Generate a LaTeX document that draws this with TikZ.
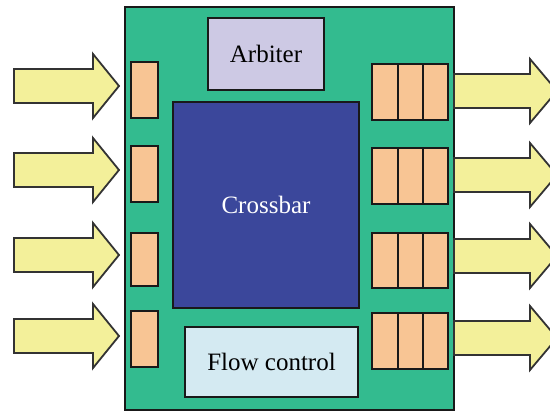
\documentclass[tikz,border=0pt]{standalone}
\usepackage{fontspec}
\setmainfont{Liberation Serif}
\definecolor{routergreen}{RGB}{51,187,143}
\definecolor{xbarblue}{RGB}{59,71,155}
\definecolor{arblav}{RGB}{205,201,228}
\definecolor{flowblue}{RGB}{212,234,242}
\definecolor{bufpeach}{RGB}{248,197,148}
\definecolor{arrowyellow}{RGB}{243,240,154}
\tikzset{
  box/.style={draw=black!90, line width=2pt, anchor=north west, inner sep=0pt, font=\fontsize{25}{30}\selectfont},
  buf/.style={box, fill=bufpeach},
  fatarrow/.style={draw=black!80, line width=1.8pt, fill=arrowyellow, line join=miter}
}
\newcommand{\fatarrowat}[4]{% x-start, x-shaft-end, x-tip, y-center
  \draw[fatarrow] (#1,#4-17) -- (#2,#4-17) -- (#2,#4-32) -- (#3,#4) -- (#2,#4+32) -- (#2,#4+17) -- (#1,#4+17) -- cycle;}
\begin{document}
\begin{tikzpicture}[x=1pt,y=-1pt]
\useasboundingbox (0,0) rectangle (550,411);
\clip (0,0) rectangle (550,411);
% router body
\node[box, fill=routergreen, minimum width=329pt, minimum height=403pt] (router) at (124,6) {};
\node[box, fill=arblav, minimum width=116pt, minimum height=72pt] (arbiter) at (207,17) {Arbiter};
\node[box, fill=xbarblue, text=white, minimum width=186pt, minimum height=206pt] (crossbar) at (172,101) {Crossbar};
\node[box, fill=flowblue, minimum width=173pt, minimum height=70pt] (flow) at (184,326) {Flow control};
% input buffers
\node[buf, minimum width=27pt, minimum height=56pt] (ib1) at (130,61) {};
\node[buf, minimum width=27pt, minimum height=56pt] (ib2) at (130,145) {};
\node[buf, minimum width=27pt, minimum height=53pt] (ib3) at (130,232) {};
\node[buf, minimum width=27pt, minimum height=56pt] (ib4) at (130,310) {};
% output buffers
\foreach \i/\y/\h in {1/63/56, 2/147/56, 3/232/55, 4/312/56}{
  \node[buf, minimum width=26pt, minimum height=\h pt] (ob\i a) at (371,\y) {};
  \node[buf, minimum width=25pt, minimum height=\h pt] (ob\i b) at (397,\y) {};
  \node[buf, minimum width=25pt, minimum height=\h pt] (ob\i c) at (422,\y) {};
}
% input arrows
\fatarrowat{14}{93}{119}{86}
\fatarrowat{14}{93}{119}{170}
\fatarrowat{14}{93}{119}{255}
\fatarrowat{14}{93}{119}{336}
% output arrows
\fatarrowat{454}{530}{557}{91}
\fatarrowat{454}{530}{557}{175}
\fatarrowat{454}{530}{557}{256}
\fatarrowat{454}{530}{557}{338}
\end{tikzpicture}
\end{document}
